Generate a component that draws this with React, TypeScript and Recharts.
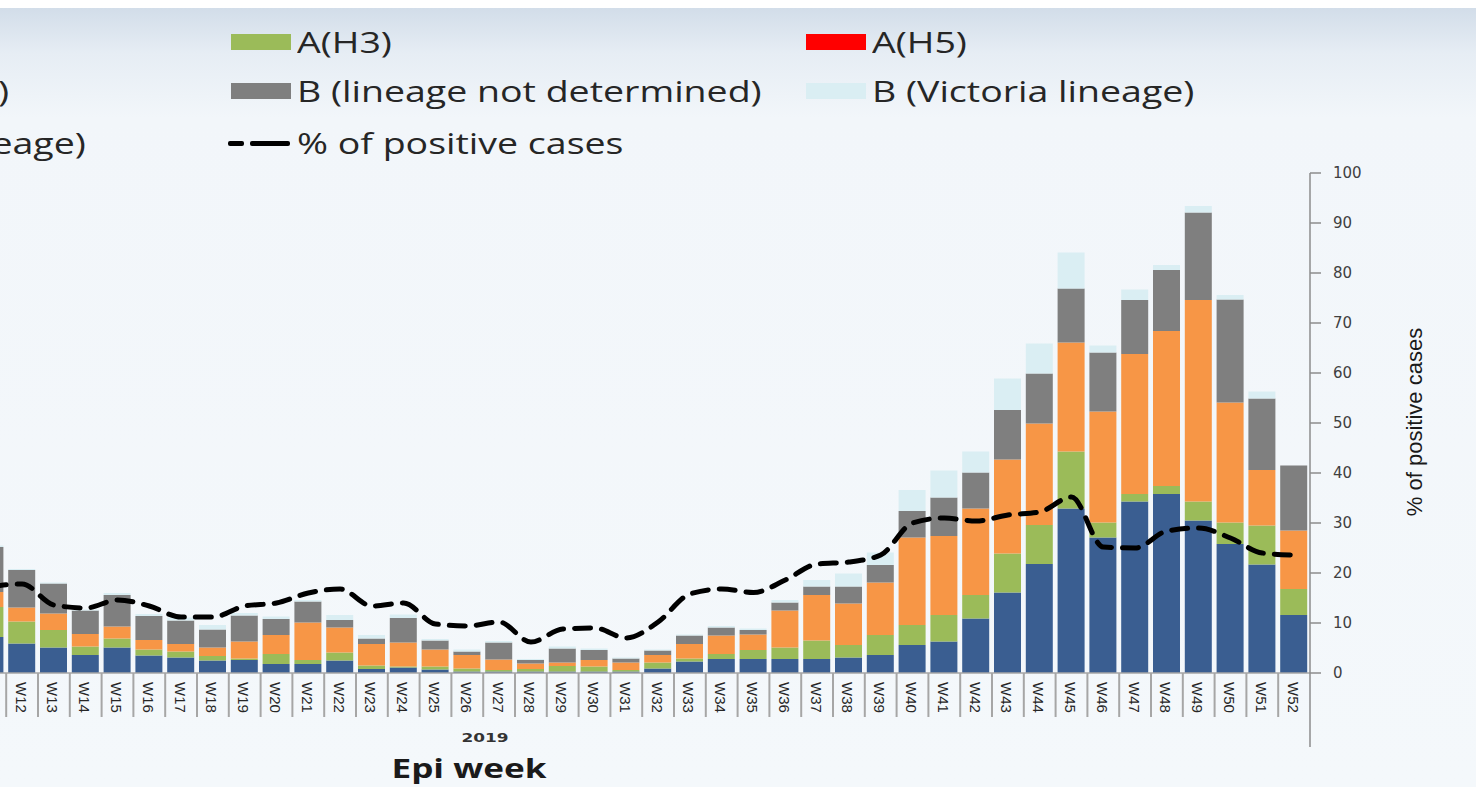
import { Bar, ComposedChart, Line, XAxis, YAxis } from "recharts";

const weeks = [
  "W11", "W12", "W13", "W14", "W15", "W16", "W17", "W18", "W19", "W20",
  "W21", "W22", "W23", "W24", "W25", "W26", "W27", "W28", "W29", "W30",
  "W31", "W32", "W33", "W34", "W35", "W36", "W37", "W38", "W39", "W40",
  "W41", "W42", "W43", "W44", "W45", "W46", "W47", "W48", "W49", "W50",
  "W51", "W52",
];

const h1n1 = [
  7.2, 5.9, 5.1, 3.6, 5.1, 3.5, 3.1, 2.5, 2.6, 1.8,
  1.8, 2.5, 0.8, 1.1, 0.7, 0.3, 0.3, 0.3, 0.3, 0.3,
  0.3, 0.9, 2.3, 2.8, 2.8, 2.8, 2.8, 3.1, 3.6, 5.6,
  6.3, 10.9, 16.1, 21.8, 32.9, 27.1, 34.3, 35.8, 30.5, 25.8,
  21.7, 11.6,
];
const h3 = [
  6.0, 4.4, 3.5, 1.7, 1.8, 1.2, 1.2, 0.9, 0.3, 2.0,
  0.8, 1.6, 0.7, 0.2, 0.6, 0.6, 0.3, 0.5, 1.1, 1.0,
  0.3, 1.2, 0.6, 1.0, 1.8, 2.3, 3.7, 2.5, 4.0, 4.0,
  5.3, 4.7, 7.8, 7.8, 11.4, 3.0, 1.5, 1.6, 3.8, 4.3,
  7.8, 5.2,
];
const notSubtyped = [
  3.0, 2.8, 3.3, 2.5, 2.4, 1.9, 1.5, 1.7, 3.4, 3.8,
  7.5, 5.0, 4.3, 4.8, 3.4, 2.7, 2.1, 1.1, 0.7, 1.3,
  1.5, 1.5, 2.9, 3.7, 3.1, 7.4, 9.1, 8.3, 10.5, 17.5,
  15.8, 17.3, 18.8, 20.3, 21.8, 22.2, 28.0, 31.0, 40.3, 24.0,
  11.1, 11.7,
];
const bNotDetermined = [
  9.0, 7.5, 6.0, 4.7, 6.3, 4.8, 4.7, 3.6, 5.2, 3.2,
  4.2, 1.5, 1.1, 4.9, 1.8, 0.7, 3.4, 0.7, 2.8, 2.0,
  0.8, 0.9, 1.7, 1.6, 0.9, 1.6, 1.7, 3.4, 3.5, 5.3,
  7.7, 7.2, 9.9, 10.0, 10.8, 11.8, 10.8, 12.2, 17.5, 20.6,
  14.3, 13.0,
];
const bVictoria = [
  0.3, 0.2, 0.2, 0.2, 0.4, 0.4, 0.6, 0.9, 0.5, 0.5,
  0.3, 1.0, 0.7, 0.7, 0.3, 0.4, 0.3, 0.2, 0.4, 0.3,
  0.2, 0.2, 0.2, 0.3, 0.3, 0.5, 1.3, 2.6, 2.5, 4.2,
  5.4, 4.2, 6.3, 6.0, 7.2, 1.4, 2.1, 1.0, 1.3, 0.9,
  1.4, 0,
];
const positivePct = [
  17.3, 17.8, 13.6, 13.0, 14.6, 13.4, 11.2, 11.2, 13.4, 14.0,
  16.0, 16.8, 13.4, 14.0, 9.8, 9.4, 10.2, 6.2, 8.8, 9.0,
  7.0, 10.2, 15.8, 16.8, 16.1, 18.6, 21.8, 22.2, 23.6, 30.0,
  31.0, 30.4, 31.6, 32.2, 35.2, 25.2, 25.0, 28.4, 29.0, 27.0,
  24.0, 23.6,
];

const yTicks = [0, 10, 20, 30, 40, 50, 60, 70, 80, 90, 100];

const data = weeks.map((week, i) => ({
  week,
  h1n1: h1n1[i],
  h3: h3[i],
  notSubtyped: notSubtyped[i],
  bNotDetermined: bNotDetermined[i],
  bVictoria: bVictoria[i],
  positivePct: positivePct[i],
}));

const COLORS = {
  h1n1: "#3a5e91",
  h3: "#9bbb59",
  notSubtyped: "#f79646",
  bNotDetermined: "#7f7f7f",
  bVictoria: "#daeef3",
  h5: "#ff0000",
  yamagata: "#4bacc6",
};

// chart is shifted left so the first weeks fall outside the crop
const CHART_LEFT = -60;
const CHART_W = 1543;
const CHART_H = 787;
const MARGIN = { top: 173, right: 113, bottom: 0, left: 34.4 };
const Y_AXIS_W = 60;
const BAND = (CHART_W - MARGIN.left - MARGIN.right - Y_AXIS_W) / weeks.length;

const legendCols = [-344, 231, 806];
const legendRows = [42, 91, 143];
const legendItems = [
  { col: 0, row: 0, label: "A(H1N1)pdm09", color: COLORS.h1n1 },
  { col: 0, row: 1, label: "A (not subtyped)", color: COLORS.notSubtyped },
  { col: 0, row: 2, label: "B (Yamagata lineage)", color: COLORS.yamagata },
  { col: 1, row: 0, label: "A(H3)", color: COLORS.h3 },
  { col: 1, row: 1, label: "B (lineage not determined)", color: COLORS.bNotDetermined },
  { col: 1, row: 2, label: "% of positive cases", color: "dash" },
  { col: 2, row: 0, label: "A(H5)", color: COLORS.h5 },
  { col: 2, row: 1, label: "B (Victoria lineage)", color: COLORS.bVictoria },
];

function WeekTick(props: any) {
  const { x, y, payload, index } = props;
  const last = index === weeks.length - 1;
  return (
    <g>
      <line x1={x - BAND / 2} x2={x - BAND / 2} y1={y} y2={y + 44} stroke="#a6a6a6" strokeWidth={2} />
      {last && (
        <line x1={x + BAND / 2} x2={x + BAND / 2} y1={y} y2={y + 74} stroke="#8c8c8c" strokeWidth={1.5} />
      )}
      <text
        transform={`translate(${x - 1},${y + 9}) rotate(90)`}
        textAnchor="start"
        dominantBaseline="central"
        fontSize={15}
        fontFamily="Liberation Sans, Arial, sans-serif"
        fill="#262626"
      >
        {payload.value}
      </text>
    </g>
  );
}

function LegendBlock() {
  return (
    <>
      {legendItems.map((item) => {
        const left = legendCols[item.col];
        const cy = legendRows[item.row];
        return (
          <div key={item.label}>
            {item.color === "dash" ? (
              <>
                <div style={{ position: "absolute", left: left - 3, top: cy - 2.5, width: 16, height: 5, background: "#000", borderRadius: 2 }} />
                <div style={{ position: "absolute", left: left + 19, top: cy - 2.5, width: 40, height: 5, background: "#000", borderRadius: 2 }} />
              </>
            ) : (
              <div style={{ position: "absolute", left, top: cy - 8, width: 60, height: 16, background: item.color }} />
            )}
            <div
              style={{
                position: "absolute",
                left: left + 66,
                top: cy - 22,
                height: 44,
                lineHeight: "44px",
                fontSize: 30,
                fontFamily: "Open Sans, sans-serif",
                color: "#262626",
                whiteSpace: "nowrap",
                transform: "scaleX(1.25)",
                transformOrigin: "left center",
              }}
            >
              {item.label}
            </div>
          </div>
        );
      })}
    </>
  );
}

export default function App() {
  return (
    <div
      style={{
        position: "fixed",
        left: 0,
        top: 0,
        width: 1483,
        height: 787,
        overflow: "hidden",
        background: "#ffffff",
      }}
    >
      <div
        style={{
          position: "absolute",
          left: 0,
          top: 8,
          width: 1476,
          height: 779,
          background: "linear-gradient(180deg, #d2dde9 0px, #e6edf4 45px, #f2f6fa 110px, #f4f8fb 100%)",
        }}
      />
      <div style={{ position: "absolute", left: CHART_LEFT, top: 0 }}>
        <ComposedChart width={CHART_W} height={CHART_H} data={data} margin={MARGIN}>
          <XAxis
            dataKey="week"
            height={CHART_H - 673}
            interval={0}
            tickSize={0}
            tickMargin={0}
            tick={<WeekTick />}
            axisLine={{ stroke: "#a6a6a6", strokeWidth: 1.5 }}
          />
          <YAxis
            yAxisId="r"
            orientation="right"
            width={Y_AXIS_W}
            domain={[0, 100]}
            ticks={yTicks}
            interval={0}
            tickSize={11}
            tickMargin={12}
            axisLine={{ stroke: "#8c8c8c", strokeWidth: 1.5 }}
            tickLine={{ stroke: "#8c8c8c", strokeWidth: 1.5 }}
            tick={{ fontSize: 15, fill: "#404040", fontFamily: "DejaVu Sans, sans-serif", textAnchor: "start" }}
          />
          <Bar yAxisId="r" dataKey="h1n1" stackId="s" fill={COLORS.h1n1} barSize={27} isAnimationActive={false} />
          <Bar yAxisId="r" dataKey="h3" stackId="s" fill={COLORS.h3} barSize={27} isAnimationActive={false} />
          <Bar yAxisId="r" dataKey="notSubtyped" stackId="s" fill={COLORS.notSubtyped} barSize={27} isAnimationActive={false} />
          <Bar yAxisId="r" dataKey="bNotDetermined" stackId="s" fill={COLORS.bNotDetermined} barSize={27} isAnimationActive={false} />
          <Bar yAxisId="r" dataKey="bVictoria" stackId="s" fill={COLORS.bVictoria} barSize={27} isAnimationActive={false} />
          <Line
            yAxisId="r"
            dataKey="positivePct"
            type="monotone"
            stroke="#000"
            strokeWidth={5}
            strokeDasharray="16 11"
            strokeLinecap="round"
            dot={false}
            isAnimationActive={false}
          />
        </ComposedChart>
      </div>
      <LegendBlock />
      <div
        style={{
          position: "absolute",
          left: 1415,
          top: 422,
          transform: "translate(-50%, -50%) rotate(-90deg)",
          fontSize: 22,
          fontFamily: "Liberation Sans, Arial, sans-serif",
          color: "#1a1a1a",
          whiteSpace: "nowrap",
        }}
      >
        % of positive cases
      </div>
      <div
        style={{
          position: "absolute",
          left: 485,
          top: 737,
          transform: "translate(-50%, -50%) scaleX(1.3)",
          fontSize: 13,
          fontWeight: 700,
          fontFamily: "DejaVu Sans, sans-serif",
          color: "#333",
          whiteSpace: "nowrap",
        }}
      >
        2019
      </div>
      <div
        style={{
          position: "absolute",
          left: 469,
          top: 767,
          transform: "translate(-50%, -50%) scaleX(1.3)",
          fontSize: 27,
          fontWeight: 700,
          fontFamily: "Open Sans, sans-serif",
          color: "#1a1a1a",
          whiteSpace: "nowrap",
        }}
      >
        Epi week
      </div>
    </div>
  );
}
